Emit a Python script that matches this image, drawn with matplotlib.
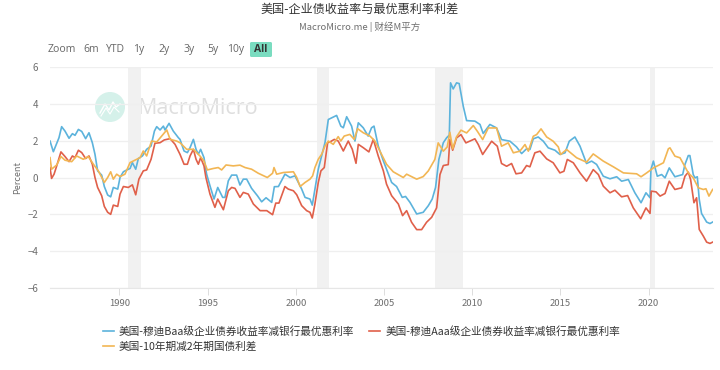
import matplotlib
matplotlib.use("Agg")
import matplotlib.pyplot as plt
from matplotlib.patches import Circle, FancyBboxPatch

plt.rcParams["font.family"] = ["Noto Sans CJK SC", "DejaVu Sans"]

# values (fractional year, percent)
baa_years = [1986.06, 1986.25, 1986.44, 1986.57, 1986.72, 1986.91, 1987.14, 1987.33, 1987.48, 1987.67, 1987.86, 1988.08,
             1988.27, 1988.46, 1988.61, 1988.76, 1988.99, 1989.14, 1989.33, 1989.50, 1989.65, 1989.90, 1990.03, 1990.22,
             1990.41, 1990.60, 1990.73, 1990.92, 1991.07, 1991.30, 1991.54, 1991.79, 1991.98, 1992.11, 1992.30, 1992.49,
             1992.58, 1992.81, 1993.05, 1993.34, 1993.43, 1993.66, 1993.85, 1994.00, 1994.19, 1994.34, 1994.47, 1994.60,
             1994.79, 1994.94, 1995.13, 1995.36, 1995.57, 1995.85, 1995.98, 1996.17, 1996.36, 1996.64, 1996.83, 1997.02,
             1997.21, 1997.49, 1997.82, 1998.06, 1998.31, 1998.63, 1998.78, 1999.01, 1999.38, 1999.67, 1999.95, 2000.14,
             2000.33, 2000.52, 2000.80, 2000.93, 2001.08, 2001.27, 2001.46, 2001.65, 2001.84, 2002.03, 2002.31, 2002.55,
             2002.69, 2002.88, 2003.16, 2003.35, 2003.54, 2003.82, 2004.10, 2004.29, 2004.43, 2004.67, 2004.96, 2005.14,
             2005.43, 2005.71, 2006.03, 2006.22, 2006.47, 2006.85, 2007.22, 2007.51, 2007.73, 2007.92, 2008.11, 2008.36,
             2008.55, 2008.70, 2008.77, 2008.92, 2009.11, 2009.26, 2009.49, 2009.68, 2010.15, 2010.44, 2010.62, 2011.00,
             2011.38, 2011.66, 2012.14, 2012.51, 2012.80, 2013.08, 2013.27, 2013.46, 2013.74, 2014.03, 2014.31, 2014.69,
             2014.97, 2015.26, 2015.50, 2015.82, 2016.11, 2016.48, 2016.77, 2017.05, 2017.43, 2017.81, 2018.19, 2018.47,
             2018.85, 2019.22, 2019.57, 2019.85, 2020.08, 2020.13, 2020.27, 2020.49, 2020.74, 2020.93, 2021.17, 2021.49,
             2021.93, 2022.06, 2022.25, 2022.34, 2022.53, 2022.63, 2022.76, 2022.87, 2023.00, 2023.29, 2023.48, 2023.63]
baa_values = [1.98, 1.40, 1.86, 2.16, 2.76, 2.52, 2.13, 2.38, 2.29, 2.61, 2.50, 2.11,
              2.43, 1.89, 1.26, 0.36, 0.13, -0.49, -0.95, -1.05, -0.54, -0.63, 0.00, 0.31,
              0.41, 0.49, 0.81, 0.45, 1.03, 1.17, 1.53, 1.71, 2.52, 2.76, 2.58, 2.79,
              2.58, 2.94, 2.52, 2.16, 2.07, 1.44, 1.35, 1.62, 2.07, 1.53, 1.26, 1.53,
              1.08, 0.18, -0.45, -1.17, -0.54, -1.08, -1.08, -0.18, 0.13, 0.13, -0.41, -0.09,
              -0.09, -0.59, -0.99, -1.32, -1.10, -1.35, -0.50, -0.49, 0.18, 0.00, 0.09, -0.27,
              -0.63, -1.08, -1.17, -1.50, -0.63, 0.45, 1.17, 1.89, 3.15, 3.24, 3.37, 2.79,
              2.70, 3.30, 2.79, 1.98, 2.97, 2.70, 2.25, 2.70, 2.79, 1.71, 0.90, 0.45,
              -0.27, -0.49, -1.08, -1.03, -1.35, -1.98, -1.89, -1.53, -1.17, -0.54, 0.99, 1.89,
              2.16, 2.30, 5.14, 4.81, 5.14, 5.10, 3.87, 3.09, 3.06, 2.88, 2.39, 2.88,
              2.69, 2.06, 1.97, 1.66, 1.30, 1.56, 1.52, 2.10, 2.20, 1.97, 1.61, 1.48,
              1.25, 1.34, 1.97, 2.20, 1.70, 0.76, 0.89, 0.71, 0.07, -0.07, 0.04, -0.20,
              -0.11, -0.83, -1.37, -0.83, -1.10, 0.43, 0.89, 0.07, 0.16, -0.02, 0.52, 0.04,
              0.16, 0.71, 1.19, 1.19, 0.16, -0.02, 0.04, -1.19, -1.95, -2.42, -2.50, -2.42]

aaa_years = [1986.06, 1986.15, 1986.29, 1986.44, 1986.68, 1986.91, 1987.14, 1987.33, 1987.48, 1987.67, 1987.86, 1988.08,
             1988.27, 1988.46, 1988.61, 1988.76, 1988.99, 1989.14, 1989.33, 1989.50, 1989.65, 1989.90, 1990.03, 1990.22,
             1990.50, 1990.73, 1990.92, 1991.10, 1991.35, 1991.54, 1991.79, 1992.01, 1992.30, 1992.54, 1992.87, 1993.15,
             1993.43, 1993.66, 1993.85, 1994.00, 1994.19, 1994.34, 1994.47, 1994.60, 1994.79, 1994.90, 1995.13, 1995.41,
             1995.57, 1995.89, 1996.17, 1996.36, 1996.55, 1996.83, 1997.02, 1997.30, 1997.59, 1997.97, 1998.35, 1998.68,
             1998.86, 1999.04, 1999.38, 1999.57, 1999.86, 2000.05, 2000.33, 2000.61, 2000.80, 2000.93, 2001.08, 2001.27,
             2001.42, 2001.61, 2001.80, 2001.93, 2002.18, 2002.40, 2002.69, 2002.97, 2003.20, 2003.41, 2003.54, 2003.82,
             2004.14, 2004.39, 2004.67, 2004.96, 2005.14, 2005.43, 2005.81, 2006.05, 2006.28, 2006.56, 2006.85, 2007.13,
             2007.41, 2007.70, 2007.98, 2008.17, 2008.36, 2008.64, 2008.73, 2008.89, 2009.11, 2009.36, 2009.64, 2010.15,
             2010.34, 2010.59, 2011.10, 2011.42, 2011.66, 2011.95, 2012.23, 2012.48, 2012.80, 2013.08, 2013.27, 2013.55,
             2013.84, 2014.22, 2014.59, 2014.97, 2015.20, 2015.39, 2015.73, 2016.11, 2016.48, 2016.86, 2017.15, 2017.43,
             2017.81, 2018.09, 2018.47, 2018.81, 2019.13, 2019.55, 2019.85, 2020.08, 2020.15, 2020.42, 2020.65, 2020.93,
             2021.17, 2021.49, 2021.87, 2022.06, 2022.25, 2022.38, 2022.57, 2022.72, 2022.87, 2023.10, 2023.29, 2023.48, 2023.63]
aaa_values = [0.54, -0.05, 0.18, 0.63, 1.39, 1.14, 0.86, 1.17, 1.08, 1.48, 1.35, 1.03,
              1.17, 0.72, 0.00, -0.54, -0.99, -1.57, -1.89, -2.00, -1.50, -1.57, -0.90, -0.49,
              -0.54, -0.40, -0.94, -0.09, 0.36, 0.41, 0.99, 1.86, 1.89, 2.04, 2.11, 1.80,
              1.26, 0.72, 0.72, 1.17, 1.53, 0.99, 0.72, 1.08, 0.63, 0.00, -0.90, -1.62,
              -1.17, -1.75, -0.72, -0.54, -0.59, -1.08, -0.81, -0.90, -1.44, -1.80, -1.80, -2.02,
              -1.39, -1.39, -0.49, -0.63, -0.72, -0.94, -1.53, -1.80, -1.89, -2.20, -1.44, -0.27,
              0.36, 0.54, 1.89, 1.93, 2.07, 1.98, 1.44, 1.98, 1.53, 0.77, 1.80, 1.62,
              1.39, 2.07, 1.17, 0.36, -0.36, -0.99, -1.44, -2.07, -1.80, -2.43, -2.83, -2.83,
              -2.43, -2.16, -1.65, 0.16, 0.65, 0.70, 2.06, 1.48, 2.15, 2.33, 1.88, 2.10,
              1.79, 1.25, 1.97, 1.70, 0.76, 0.61, 0.76, 0.20, 0.25, 0.65, 0.58, 1.34,
              1.43, 1.01, 0.80, 0.25, 0.34, 0.98, 0.80, 0.25, -0.20, 0.43, 0.16, -0.47,
              -0.83, -0.69, -1.05, -0.98, -1.65, -2.24, -1.65, -1.95, -0.74, -0.78, -1.01, -0.87,
              -0.20, -0.65, -0.56, 0.07, 0.29, -0.11, -1.37, -1.10, -2.82, -3.18, -3.51, -3.58, -3.51]

t10y2y_years = [1986.06, 1986.15, 1986.44, 1986.68, 1986.91, 1987.29, 1987.57, 1987.95, 1988.23, 1988.52, 1988.80, 1989.14,
                1989.33, 1989.50, 1989.65, 1989.84, 1990.03, 1990.31, 1990.60, 1990.88, 1991.17, 1991.35, 1991.54, 1991.82,
                1992.11, 1992.39, 1992.68, 1992.87, 1993.24, 1993.43, 1993.81, 1994.19, 1994.56, 1994.79, 1994.98, 1995.32,
                1995.60, 1995.79, 1996.04, 1996.45, 1996.83, 1997.12, 1997.49, 1997.87, 1998.38, 1998.68, 1998.76, 1998.91,
                1999.29, 1999.86, 2000.05, 2000.24, 2000.52, 2000.80, 2000.95, 2001.08, 2001.27, 2001.46, 2001.65, 2001.84,
                2002.12, 2002.40, 2002.55, 2002.74, 2003.06, 2003.31, 2003.50, 2003.82, 2004.20, 2004.48, 2004.86, 2005.14,
                2005.52, 2006.09, 2006.28, 2006.85, 2007.22, 2007.51, 2007.88, 2008.07, 2008.36, 2008.58, 2008.73, 2008.89,
                2009.11, 2009.36, 2009.68, 2010.06, 2010.29, 2010.59, 2010.91, 2011.38, 2011.66, 2012.04, 2012.33, 2012.70,
                2012.99, 2013.18, 2013.46, 2013.65, 2013.90, 2014.22, 2014.59, 2014.88, 2015.01, 2015.35, 2015.92, 2016.48,
                2016.86, 2017.43, 2018.00, 2018.57, 2019.32, 2019.57, 2019.89, 2020.27, 2020.84, 2021.12, 2021.21, 2021.49,
                2021.78, 2022.25, 2022.53, 2022.82, 2023.10, 2023.25, 2023.42, 2023.63]
t10y2y_values = [1.08, 0.45, 0.68, 1.14, 0.94, 0.86, 1.17, 0.99, 1.14, 0.72, 0.36, -0.27,
                 0.00, 0.31, -0.09, 0.18, 0.05, 0.18, 0.81, 0.94, 1.08, 1.44, 1.17, 1.98,
                 1.93, 2.25, 2.58, 2.07, 1.98, 1.89, 1.53, 1.53, 1.17, 0.90, 0.41, 0.49,
                 0.54, 0.41, 0.68, 0.63, 0.67, 0.54, 0.45, 0.23, 0.00, 0.23, 0.54, 0.18,
                 0.27, 0.31, 0.00, -0.49, -0.27, -0.09, 0.09, 0.54, 0.99, 1.26, 1.71, 1.98,
                 1.80, 2.22, 1.98, 2.25, 2.34, 2.07, 2.65, 2.43, 2.25, 1.98, 1.26, 0.72,
                 0.31, 0.00, 0.18, -0.09, 0.05, 0.36, 0.98, 1.88, 1.43, 1.66, 2.46, 1.56,
                 2.21, 2.57, 2.42, 2.82, 2.51, 2.06, 2.69, 2.69, 1.70, 1.88, 1.34, 1.43,
                 1.79, 1.43, 2.24, 2.33, 2.64, 2.20, 1.97, 1.66, 1.25, 1.52, 1.07, 0.83,
                 1.28, 0.89, 0.58, 0.25, 0.20, 0.04, 0.25, 0.52, 0.80, 1.56, 1.61, 1.16,
                 1.07, 0.25, -0.02, -0.56, -0.65, -0.61, -1.01, -0.65]

recession_starts = [1990.49, 2001.20, 2007.90, 2020.10]
recession_ends = [1991.23, 2001.90, 2009.45, 2020.35]

x_ticks = [1990, 1995, 2000, 2005, 2010, 2015, 2020]
y_ticks = [-6, -4, -2, 0, 2, 4, 6]
range_buttons = ["Zoom", "6m", "YTD", "1y", "2y", "3y", "5y", "10y", "All"]
button_centers = [62, 91, 115, 139, 164, 189, 213, 236, 261]

title = "美国-企业债收益率与最优惠利率利差"
subtitle = "MacroMicro.me | 财经M平方"
label_baa = "美国-穆迪Baa级企业债券收益率减银行最优惠利率"
label_aaa = "美国-穆迪Aaa级企业债券收益率减银行最优惠利率"
label_spread = "美国-10年期减2年期国债利差"

BLUE = "#5cb3dc"
RED = "#e0604a"
YELLOW = "#f2b654"
GREY = "#6e6e6e"

fig = plt.figure(figsize=(7.2, 3.7), dpi=100)

# pixel overlay under the plot, for the watermark and range buttons
ov = fig.add_axes([0, 0, 1, 1], zorder=0)
ov.set_xlim(0, 720)
ov.set_ylim(370, 0)
ov.axis("off")
ov.add_patch(Circle((110, 107), 15, color="#d5f1ea", lw=0))
ov.plot([100, 105, 109, 113, 116, 120], [113, 104, 110, 102, 107, 104], color="white", lw=1)
ov.plot([101, 106, 110, 114, 119], [116, 108, 114, 107, 112], color="white", lw=0.8)
ov.text(138, 108, "MacroMicro", fontsize=15.5, color="#dedede", va="center", ha="left", family="Open Sans")
ov.add_patch(FancyBboxPatch((250, 42), 22, 15, boxstyle="round,pad=0,rounding_size=1.5",
                            fc="#7adcc0", ec="none"))
for lab, cx in zip(range_buttons, button_centers):
    active = lab == "All"
    ov.text(cx, 49.5, lab, fontsize=7.5, ha="center", va="center", family="Open Sans",
            color="#333333" if active else "#666666", fontweight="bold" if active else "normal")

ax = fig.add_axes([50 / 720, 1 - 288 / 370, 663 / 720, 221 / 370], zorder=1)
ax.patch.set_alpha(0)
for a, b in zip(recession_starts, recession_ends):
    ax.axvspan(a, b, color="#f1f1f1", lw=0, zorder=0)
ax.plot(baa_years, baa_values, color=BLUE, lw=1.2, label=label_baa, zorder=3)
ax.plot(t10y2y_years, t10y2y_values, color=YELLOW, lw=1.2, label=label_spread, zorder=5)
ax.plot(aaa_years, aaa_values, color=RED, lw=1.2, label=label_aaa, zorder=4)

ax.set_xlim(1986.06, 2023.65)
ax.set_ylim(-6, 6)
ax.set_xticks(x_ticks)
ax.set_yticks(y_ticks)
ax.grid(axis="y", color="#efefef", lw=0.9)
ax.set_axisbelow(True)
for side in ("top", "right", "left"):
    ax.spines[side].set_visible(False)
ax.spines["bottom"].set_color("#e6e6e6")
ax.tick_params(axis="x", length=5, width=0.7, color="#dddddd", labelcolor=GREY, labelsize=6.8, pad=3)
ax.tick_params(axis="y", length=0, labelcolor=GREY, labelsize=7, pad=8.4)
ax.set_ylabel("Percent", fontsize=6.5, color=GREY, labelpad=3.7)

fig.text(0.5, 1 - 9 / 370, title, ha="center", va="center", fontsize=8.7, color="#333333")
fig.text(0.5, 1 - 27 / 370, subtitle, ha="center", va="center", fontsize=6.8, color=GREY)

fig.legend(loc="center left", bbox_to_anchor=(103 / 720, 1 - 339 / 370), ncols=2, frameon=False,
           fontsize=7.7, labelcolor="#333333", handlelength=1.0, handletextpad=0.5, columnspacing=1.4,
           labelspacing=0.5, borderpad=0, borderaxespad=0)

fig.savefig("out.png", dpi=100)
plt.close(fig)
